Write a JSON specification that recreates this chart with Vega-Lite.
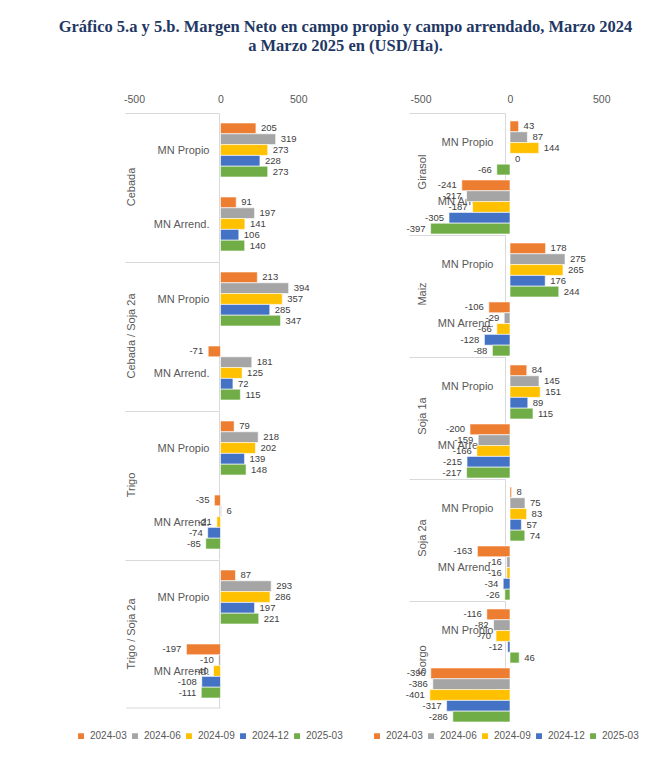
{
  "$schema": "https://vega.github.io/schema/vega-lite/v6.json",
  "padding": {"left": 56, "top": 18, "right": 5, "bottom": 5},
  "title": {
    "text": ["Gráfico 5.a y 5.b.  Margen Neto en campo propio y campo arrendado, Marzo 2024", "a Marzo 2025 en (USD/Ha)."],
    "font": "Liberation Serif",
    "fontSize": 16.5,
    "fontWeight": "bold",
    "color": "#1F3864",
    "anchor": "middle",
    "dx": -12,
    "lineHeight": 19,
    "offset": 40
  },
  "config": {
    "view": {"stroke": null},
    "font": "Liberation Sans",
    "locale": {"number": {"decimal": ".", "thousands": ",", "grouping": [3], "currency": ["$", ""], "minus": "-"}},
    "axis": {"labelFont": "Liberation Sans"},
    "legend": {"labelFont": "Liberation Sans"}
  },
  "datasets": {
    "left": [
      {"crop": "Cebada", "type": "MN Propio", "period": "2024-03", "value": 205},
      {"crop": "Cebada", "type": "MN Propio", "period": "2024-06", "value": 319},
      {"crop": "Cebada", "type": "MN Propio", "period": "2024-09", "value": 273},
      {"crop": "Cebada", "type": "MN Propio", "period": "2024-12", "value": 228},
      {"crop": "Cebada", "type": "MN Propio", "period": "2025-03", "value": 273},
      {"crop": "Cebada", "type": "MN Arrend.", "period": "2024-03", "value": 91},
      {"crop": "Cebada", "type": "MN Arrend.", "period": "2024-06", "value": 197},
      {"crop": "Cebada", "type": "MN Arrend.", "period": "2024-09", "value": 141},
      {"crop": "Cebada", "type": "MN Arrend.", "period": "2024-12", "value": 106},
      {"crop": "Cebada", "type": "MN Arrend.", "period": "2025-03", "value": 140},
      {"crop": "Cebada / Soja 2a", "type": "MN Propio", "period": "2024-03", "value": 213},
      {"crop": "Cebada / Soja 2a", "type": "MN Propio", "period": "2024-06", "value": 394},
      {"crop": "Cebada / Soja 2a", "type": "MN Propio", "period": "2024-09", "value": 357},
      {"crop": "Cebada / Soja 2a", "type": "MN Propio", "period": "2024-12", "value": 285},
      {"crop": "Cebada / Soja 2a", "type": "MN Propio", "period": "2025-03", "value": 347},
      {"crop": "Cebada / Soja 2a", "type": "MN Arrend.", "period": "2024-03", "value": -71},
      {"crop": "Cebada / Soja 2a", "type": "MN Arrend.", "period": "2024-06", "value": 181},
      {"crop": "Cebada / Soja 2a", "type": "MN Arrend.", "period": "2024-09", "value": 125},
      {"crop": "Cebada / Soja 2a", "type": "MN Arrend.", "period": "2024-12", "value": 72},
      {"crop": "Cebada / Soja 2a", "type": "MN Arrend.", "period": "2025-03", "value": 115},
      {"crop": "Trigo", "type": "MN Propio", "period": "2024-03", "value": 79},
      {"crop": "Trigo", "type": "MN Propio", "period": "2024-06", "value": 218},
      {"crop": "Trigo", "type": "MN Propio", "period": "2024-09", "value": 202},
      {"crop": "Trigo", "type": "MN Propio", "period": "2024-12", "value": 139},
      {"crop": "Trigo", "type": "MN Propio", "period": "2025-03", "value": 148},
      {"crop": "Trigo", "type": "MN Arrend.", "period": "2024-03", "value": -35},
      {"crop": "Trigo", "type": "MN Arrend.", "period": "2024-06", "value": 6},
      {"crop": "Trigo", "type": "MN Arrend.", "period": "2024-09", "value": -21},
      {"crop": "Trigo", "type": "MN Arrend.", "period": "2024-12", "value": -74},
      {"crop": "Trigo", "type": "MN Arrend.", "period": "2025-03", "value": -85},
      {"crop": "Trigo / Soja 2a", "type": "MN Propio", "period": "2024-03", "value": 87},
      {"crop": "Trigo / Soja 2a", "type": "MN Propio", "period": "2024-06", "value": 293},
      {"crop": "Trigo / Soja 2a", "type": "MN Propio", "period": "2024-09", "value": 286},
      {"crop": "Trigo / Soja 2a", "type": "MN Propio", "period": "2024-12", "value": 197},
      {"crop": "Trigo / Soja 2a", "type": "MN Propio", "period": "2025-03", "value": 221},
      {"crop": "Trigo / Soja 2a", "type": "MN Arrend.", "period": "2024-03", "value": -197},
      {"crop": "Trigo / Soja 2a", "type": "MN Arrend.", "period": "2024-06", "value": -10},
      {"crop": "Trigo / Soja 2a", "type": "MN Arrend.", "period": "2024-09", "value": -40},
      {"crop": "Trigo / Soja 2a", "type": "MN Arrend.", "period": "2024-12", "value": -108},
      {"crop": "Trigo / Soja 2a", "type": "MN Arrend.", "period": "2025-03", "value": -111}
    ],
    "right": [
      {"crop": "Girasol", "type": "MN Propio", "period": "2024-03", "value": 43},
      {"crop": "Girasol", "type": "MN Propio", "period": "2024-06", "value": 87},
      {"crop": "Girasol", "type": "MN Propio", "period": "2024-09", "value": 144},
      {"crop": "Girasol", "type": "MN Propio", "period": "2024-12", "value": 0},
      {"crop": "Girasol", "type": "MN Propio", "period": "2025-03", "value": -66},
      {"crop": "Girasol", "type": "MN Arrend.", "period": "2024-03", "value": -241},
      {"crop": "Girasol", "type": "MN Arrend.", "period": "2024-06", "value": -217},
      {"crop": "Girasol", "type": "MN Arrend.", "period": "2024-09", "value": -187},
      {"crop": "Girasol", "type": "MN Arrend.", "period": "2024-12", "value": -305},
      {"crop": "Girasol", "type": "MN Arrend.", "period": "2025-03", "value": -397},
      {"crop": "Maiz", "type": "MN Propio", "period": "2024-03", "value": 178},
      {"crop": "Maiz", "type": "MN Propio", "period": "2024-06", "value": 275},
      {"crop": "Maiz", "type": "MN Propio", "period": "2024-09", "value": 265},
      {"crop": "Maiz", "type": "MN Propio", "period": "2024-12", "value": 176},
      {"crop": "Maiz", "type": "MN Propio", "period": "2025-03", "value": 244},
      {"crop": "Maiz", "type": "MN Arrend.", "period": "2024-03", "value": -106},
      {"crop": "Maiz", "type": "MN Arrend.", "period": "2024-06", "value": -29},
      {"crop": "Maiz", "type": "MN Arrend.", "period": "2024-09", "value": -66},
      {"crop": "Maiz", "type": "MN Arrend.", "period": "2024-12", "value": -128},
      {"crop": "Maiz", "type": "MN Arrend.", "period": "2025-03", "value": -88},
      {"crop": "Soja 1a", "type": "MN Propio", "period": "2024-03", "value": 84},
      {"crop": "Soja 1a", "type": "MN Propio", "period": "2024-06", "value": 145},
      {"crop": "Soja 1a", "type": "MN Propio", "period": "2024-09", "value": 151},
      {"crop": "Soja 1a", "type": "MN Propio", "period": "2024-12", "value": 89},
      {"crop": "Soja 1a", "type": "MN Propio", "period": "2025-03", "value": 115},
      {"crop": "Soja 1a", "type": "MN Arrend.", "period": "2024-03", "value": -200},
      {"crop": "Soja 1a", "type": "MN Arrend.", "period": "2024-06", "value": -159},
      {"crop": "Soja 1a", "type": "MN Arrend.", "period": "2024-09", "value": -166},
      {"crop": "Soja 1a", "type": "MN Arrend.", "period": "2024-12", "value": -215},
      {"crop": "Soja 1a", "type": "MN Arrend.", "period": "2025-03", "value": -217},
      {"crop": "Soja 2a", "type": "MN Propio", "period": "2024-03", "value": 8},
      {"crop": "Soja 2a", "type": "MN Propio", "period": "2024-06", "value": 75},
      {"crop": "Soja 2a", "type": "MN Propio", "period": "2024-09", "value": 83},
      {"crop": "Soja 2a", "type": "MN Propio", "period": "2024-12", "value": 57},
      {"crop": "Soja 2a", "type": "MN Propio", "period": "2025-03", "value": 74},
      {"crop": "Soja 2a", "type": "MN Arrend.", "period": "2024-03", "value": -163},
      {"crop": "Soja 2a", "type": "MN Arrend.", "period": "2024-06", "value": -16},
      {"crop": "Soja 2a", "type": "MN Arrend.", "period": "2024-09", "value": -16},
      {"crop": "Soja 2a", "type": "MN Arrend.", "period": "2024-12", "value": -34},
      {"crop": "Soja 2a", "type": "MN Arrend.", "period": "2025-03", "value": -26},
      {"crop": "Sorgo", "type": "MN Propio", "period": "2024-03", "value": -116},
      {"crop": "Sorgo", "type": "MN Propio", "period": "2024-06", "value": -82},
      {"crop": "Sorgo", "type": "MN Propio", "period": "2024-09", "value": -70},
      {"crop": "Sorgo", "type": "MN Propio", "period": "2024-12", "value": -12},
      {"crop": "Sorgo", "type": "MN Propio", "period": "2025-03", "value": 46},
      {"crop": "Sorgo", "type": "MN Arrend.", "period": "2024-03", "value": -396},
      {"crop": "Sorgo", "type": "MN Arrend.", "period": "2024-06", "value": -386},
      {"crop": "Sorgo", "type": "MN Arrend.", "period": "2024-09", "value": -401},
      {"crop": "Sorgo", "type": "MN Arrend.", "period": "2024-12", "value": -317},
      {"crop": "Sorgo", "type": "MN Arrend.", "period": "2025-03", "value": -286}
    ]
  },
  "hconcat": [
    {
      "data": {"name": "left"},
      "facet": {
        "row": {
          "field": "crop",
          "type": "nominal",
          "sort": ["Cebada", "Cebada / Soja 2a", "Trigo", "Trigo / Soja 2a"],
          "header": {"title": null, "labels": false}
        }
      },
      "spacing": {"row": 0},
      "spec": {
        "width": 181,
        "height": 148,
        "encoding": {
          "y": {
            "field": "type",
            "type": "nominal",
            "sort": ["MN Propio", "MN Arrend."],
            "scale": {"paddingInner": 0.27, "paddingOuter": 0.135},
            "axis": {
              "title": null,
              "offset": -94,
              "tickSize": 94,
              "tickOffset": -37,
              "labelOffset": 37,
              "tickColor": {"condition": {"test": "datum.value === 'MN Arrend.'", "value": "transparent"}, "value": "#D9D9D9"},
              "domainColor": "#D9D9D9",
              "labelPadding": -84,
              "labelColor": "#595959",
              "labelFontSize": 11
            }
          },
          "x": {
            "field": "value",
            "type": "quantitative",
            "scale": {"domain": [-546, 500], "nice": false, "zero": false},
            "axis": {"orient": "top", "values": [-500, 0, 500], "grid": false, "domain": false, "ticks": false, "labelColor": "#595959", "labelFontSize": 10.5, "labelPadding": 9, "title": null}
          }
        },
        "layer": [
          {
            "mark": {"type": "bar", "stroke": "white", "strokeWidth": 0.6},
            "encoding": {
              "yOffset": {"field": "period", "type": "nominal", "sort": ["2024-03", "2024-06", "2024-09", "2024-12", "2025-03"], "scale": {"paddingInner": 0}},
              "color": {
                "field": "period",
                "type": "nominal",
                "scale": {"domain": ["2024-03", "2024-06", "2024-09", "2024-12", "2025-03"], "range": ["#ED7D31", "#A5A5A5", "#FFC000", "#4472C4", "#70AD47"]},
                "legend": {"title": null, "orient": "none", "legendX": -50, "legendY": 618, "direction": "horizontal", "symbolType": "square", "symbolSize": 55, "labelFontSize": 10, "labelColor": "#595959", "columnPadding": 1}
              }
            }
          },
          {
            "transform": [{"filter": "datum.value >= 0"}],
            "mark": {"type": "text", "align": "left", "dx": 5, "fontSize": 9.5, "color": "#404040"},
            "encoding": {
              "yOffset": {"field": "period", "type": "nominal", "sort": ["2024-03", "2024-06", "2024-09", "2024-12", "2025-03"], "scale": {"paddingInner": 0}},
              "text": {"field": "value", "type": "quantitative"}
            }
          },
          {
            "transform": [{"filter": "datum.value < 0"}],
            "mark": {"type": "text", "align": "right", "dx": -5, "fontSize": 9.5, "color": "#404040"},
            "encoding": {
              "yOffset": {"field": "period", "type": "nominal", "sort": ["2024-03", "2024-06", "2024-09", "2024-12", "2025-03"], "scale": {"paddingInner": 0}},
              "text": {"field": "value", "type": "quantitative"}
            }
          },
          {
            "transform": [{"filter": "datum.type === 'MN Propio' && datum.period === '2024-03'"}],
            "mark": {"type": "text", "angle": 270, "align": "center", "baseline": "middle", "fontSize": 11, "color": "#595959"},
            "encoding": {
              "x": {"datum": -511},
              "y": {"field": "type", "type": "nominal", "sort": ["MN Propio", "MN Arrend."], "bandPosition": 1.185},
              "text": {"field": "crop", "type": "nominal"}
            }
          },
          {
            "transform": [{"filter": "datum.crop === 'Trigo / Soja 2a' && datum.type === 'MN Arrend.' && datum.period === '2024-03'"}],
            "mark": {"type": "rule", "color": "#D9D9D9", "strokeWidth": 1, "yOffset": 10},
            "encoding": {
              "x": {"datum": -546},
              "x2": {"datum": 0},
              "y": {"field": "type", "type": "nominal", "sort": ["MN Propio", "MN Arrend."], "bandPosition": 1}
            }
          }
        ]
      }
    },
    {
      "data": {"name": "right"},
      "facet": {
        "row": {
          "field": "crop",
          "type": "nominal",
          "sort": ["Girasol", "Maiz", "Soja 1a", "Soja 2a", "Sorgo"],
          "header": {"title": null, "labels": false}
        }
      },
      "spacing": {"row": 0},
      "spec": {
        "width": 200,
        "height": 118,
        "encoding": {
          "y": {
            "field": "type",
            "type": "nominal",
            "sort": ["MN Propio", "MN Arrend."],
            "scale": {"paddingInner": 0.27, "paddingOuter": 0.135},
            "axis": {
              "title": null,
              "offset": -100,
              "tickSize": 96,
              "tickOffset": -29.5,
              "labelOffset": 29.5,
              "tickColor": {"condition": {"test": "datum.value === 'MN Arrend.'", "value": "transparent"}, "value": "#D9D9D9"},
              "domainColor": "#D9D9D9",
              "labelPadding": -84,
              "labelColor": "#595959",
              "labelFontSize": 11
            }
          },
          "x": {
            "field": "value",
            "type": "quantitative",
            "scale": {"domain": [-500, 500], "nice": false, "zero": false},
            "axis": {"orient": "top", "values": [-500, 0, 500], "grid": false, "domain": false, "ticks": false, "labelColor": "#595959", "labelFontSize": 10.5, "labelPadding": 9, "title": null}
          }
        },
        "layer": [
          {
            "mark": {"type": "bar", "stroke": "white", "strokeWidth": 0.6},
            "encoding": {
              "yOffset": {"field": "period", "type": "nominal", "sort": ["2024-03", "2024-06", "2024-09", "2024-12", "2025-03"], "scale": {"paddingInner": 0}},
              "color": {
                "field": "period",
                "type": "nominal",
                "scale": {"domain": ["2024-03", "2024-06", "2024-09", "2024-12", "2025-03"], "range": ["#ED7D31", "#A5A5A5", "#FFC000", "#4472C4", "#70AD47"]},
                "legend": {"title": null, "orient": "none", "legendX": -38, "legendY": 618, "direction": "horizontal", "symbolType": "square", "symbolSize": 55, "labelFontSize": 10, "labelColor": "#595959", "columnPadding": 1}
              }
            }
          },
          {
            "transform": [{"filter": "datum.value >= 0"}],
            "mark": {"type": "text", "align": "left", "dx": 5, "fontSize": 9.5, "color": "#404040"},
            "encoding": {
              "yOffset": {"field": "period", "type": "nominal", "sort": ["2024-03", "2024-06", "2024-09", "2024-12", "2025-03"], "scale": {"paddingInner": 0}},
              "text": {"field": "value", "type": "quantitative"}
            }
          },
          {
            "transform": [{"filter": "datum.value < 0"}],
            "mark": {"type": "text", "align": "right", "dx": -5, "fontSize": 9.5, "color": "#404040"},
            "encoding": {
              "yOffset": {"field": "period", "type": "nominal", "sort": ["2024-03", "2024-06", "2024-09", "2024-12", "2025-03"], "scale": {"paddingInner": 0}},
              "text": {"field": "value", "type": "quantitative"}
            }
          },
          {
            "transform": [{"filter": "datum.type === 'MN Propio' && datum.period === '2024-03'"}],
            "mark": {"type": "text", "angle": 270, "align": "center", "baseline": "middle", "fontSize": 11, "color": "#595959"},
            "encoding": {
              "x": {"datum": -437},
              "y": {"field": "type", "type": "nominal", "sort": ["MN Propio", "MN Arrend."], "bandPosition": 1.185},
              "text": {"field": "crop", "type": "nominal"}
            }
          }
        ]
      }
    }
  ],
  "spacing": 29,
  "resolve": {"scale": {"x": "independent", "y": "independent", "color": "independent"}, "legend": {"color": "independent"}}
}
